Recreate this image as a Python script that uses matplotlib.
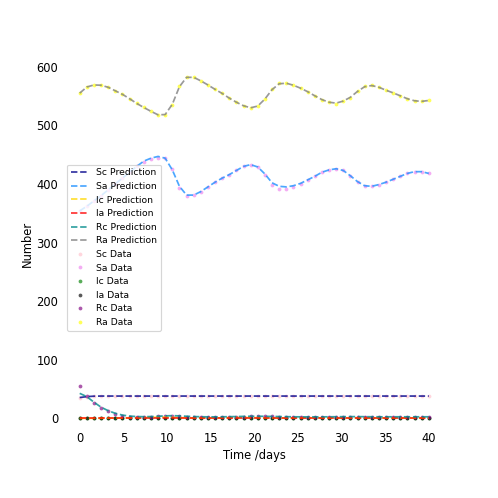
import numpy as np
import matplotlib
matplotlib.use("Agg")
import matplotlib.pyplot as plt

# time grid of the observations (50 samples over 40 days)
t = np.linspace(0, 40, 50)

sc_data = [35, 37, 37.5, 38, 38, 38, 38, 38, 38, 38, 38, 38, 38, 38, 38, 37.5, 37.5, 37.5, 37.5, 37.5,
           37.5, 37.5, 37.5, 37.5, 37.5, 37.5, 37.5, 37.5, 37.5, 37.5, 37.5, 37.5, 37.5, 37.5, 37.5,
           37.5, 37.5, 37.5, 37.5, 37.5, 37.5, 37.5, 37.5, 37.5, 37.5, 37.5, 37.5, 37.5, 37.5, 37.5]
sa_data = [354, 362, 371, 380, 390, 400, 410, 420, 430, 438, 442, 445, 444, 425, 393, 379, 382, 387,
           395, 403, 410, 416, 423, 430, 433, 429, 416, 399, 391, 391, 394, 400, 407, 413, 420, 424,
           426, 423, 414, 404, 396, 396, 399, 403, 408, 413, 418, 421, 421, 418]
ic_data = [1, 1, 1, 1, 1, 1, 1, 1, 1, 1, 1, 1, 1, 1, 1, 1, 1, 1, 1, 1, 1, 1, 1, 1, 1,
           1, 1, 1, 1, 1, 1, 1, 1, 1, 1, 1, 1, 1, 1, 1, 1, 1, 1, 1, 1, 1, 1, 1, 1, 1]
ia_data = [0.5, 0.5, 0.5, 0.5, 0.5, 0.5, 0.5, 0.5, 0.5, 0.5, 0.5, 0.5, 0.5, 0.5, 0.5, 0.5, 0.5,
           0.5, 0.5, 0.5, 0.5, 0.5, 0.5, 0.5, 0.5, 0.5, 0.5, 0.5, 0.5, 0.5, 0.5, 0.5, 0.5, 0.5,
           0.5, 0.5, 0.5, 0.5, 0.5, 0.5, 0.5, 0.5, 0.5, 0.5, 0.5, 0.5, 0.5, 0.5, 0.5, 0.5]
rc_data = [55.6, 38.6, 26.6, 18.1, 12.5, 7.9, 4.4, 2.7, 3, 3, 3, 3.5, 4, 4, 3.5, 3, 3, 2.5, 2.5, 2.5,
           2.5, 2.5, 3, 3, 3.5, 3.5, 3.5, 3.5, 3, 3, 2.5, 2.5, 2.5, 2.5, 2.5, 2.5, 2.5, 3, 3, 3,
           3, 3, 2.5, 2.5, 2.5, 2.5, 2.5, 2.5, 2.5, 2.5]
ra_data = [555.6, 565.9, 569.3, 568.8, 565.4, 559, 552.9, 545.4, 537.5, 530.7, 523.9, 517.6, 517,
           534.1, 567, 583, 582, 576, 568.8, 561.4, 554.6, 546, 539.2, 533.4, 529.5, 532.9, 544.4,
           562, 571.7, 572.2, 568.3, 563.7, 557.3, 550.5, 543.2, 539.2, 536.9, 542, 546.6, 558,
           567, 568.3, 564.8, 559.7, 555.6, 550.5, 544.9, 541.5, 541, 543.2]

sc_pred = [35.5, 37, 37.8, 38, 38, 38, 38, 38, 38, 38, 38, 38, 38, 38, 38, 38, 38, 38, 38, 38,
           38, 38, 38, 38, 38, 38, 38, 38, 38, 38, 38, 38, 38, 38, 38, 38, 38, 38, 38, 38,
           38, 38, 38, 38, 38, 38, 38, 38, 38, 38]
sa_pred = [354, 362, 371, 380, 390, 400, 410, 420, 430, 439, 444, 447, 444, 424, 396, 381, 381, 387,
           395, 403, 410, 416, 423, 430, 433, 429, 417, 402, 396, 395, 397, 401, 407, 413, 420, 424,
           426, 423, 414, 404, 397, 396, 399, 403, 408, 413, 418, 421, 421, 418]
ic_pred = [0, 0, 0, 0.2, 0.3, 0.4, 0.5, 0.6, 0.8, 1, 1.5, 2, 2, 1.6, 1.2, 0.8, 0.6, 0.5, 0.5, 0.6,
           0.8, 1, 1.2, 1.2, 1.1, 1, 0.8, 0.7, 0.6, 0.6, 0.7, 0.8, 0.9, 0.9, 0.8, 0.7, 0.6, 0.6, 0.6,
           0.7, 0.7, 0.7, 0.7, 0.7, 0.6, 0.6, 0.6, 0.6, 0.6, 0.6]
ia_pred = [0, 0, 0, 0, 0, 0, 0, 0, 0, 0, 0, 0, 0, 0, 0, 0, 0, 0, 0, 0, 0, 0, 0, 0, 0,
           0, 0, 0, 0, 0, 0, 0, 0, 0, 0, 0, 0, 0, 0, 0, 0, 0, 0, 0, 0, 0, 0, 0, 0, 0]
rc_pred = [42.6, 37, 27.5, 19, 13, 8.5, 5.5, 3.8, 3, 2.8, 3, 3.5, 4.2, 4.5, 4.2, 3.5, 3, 2.7, 2.5,
           2.5, 2.6, 2.8, 3, 3.3, 3.5, 3.5, 3.4, 3.2, 3, 2.8, 2.6, 2.5, 2.5, 2.5, 2.5, 2.6, 2.7, 2.8,
           2.9, 2.9, 2.8, 2.7, 2.6, 2.6, 2.6, 2.6, 2.6, 2.6, 2.6, 2.6]
ra_pred = [555, 565.5, 569, 568.5, 565, 559, 553, 545.5, 537.5, 530.5, 524, 518, 518.5,
           536, 566, 582, 582, 576, 569, 561.5, 554.5, 546.5, 539.5, 533.5, 530, 533, 545,
           561, 571, 572, 568.5, 563.5, 557.5, 550.5, 544, 539.5, 538, 541.5, 548, 558,
           566, 568, 565, 560, 555.5, 550.5, 545.5, 542, 541, 542.5]

names = ["Sc", "Sa", "Ic", "Ia", "Rc", "Ra"]
preds = [sc_pred, sa_pred, ic_pred, ia_pred, rc_pred, ra_pred]
datas = [sc_data, sa_data, ic_data, ia_data, rc_data, ra_data]
pred_colors = ["darkblue", "dodgerblue", "gold", "red", "darkcyan", "gray"]
data_colors = ["pink", "violet", "green", "black", "purple", "yellow"]

fig = plt.figure(figsize=(6, 6), dpi=83)
ax = fig.add_axes([0.125, 0.14, 0.771, 0.74])

handles = []
for n, p, c in zip(names, preds, pred_colors):
    h, = ax.plot(t, p, "--", color=c, alpha=0.8, linewidth=1.5, zorder=3, label=f"{n} Prediction")
    handles.append(h)
for n, d, c in zip(names, datas, data_colors):
    h, = ax.plot(t, d, "o", color=c, alpha=0.65, markersize=3.3, markeredgewidth=0,
                 zorder=2, label=f"{n} Data")
    handles.append(h)

ax.set_xlim(-2, 42)
ax.set_ylim(-17, 612)
ax.set_xticks([0, 5, 10, 15, 20, 25, 30, 35, 40])
ax.set_yticks([0, 100, 200, 300, 400, 500, 600])
ax.set_xlabel("Time /days", labelpad=3)
ax.set_ylabel("Number", labelpad=2)
for s in ax.spines.values():
    s.set_visible(False)
ax.tick_params(length=0)

ax.legend(handles=handles, loc="center left", bbox_to_anchor=(0, 0.49), fontsize=8)

fig.savefig("out.png", dpi=83)
